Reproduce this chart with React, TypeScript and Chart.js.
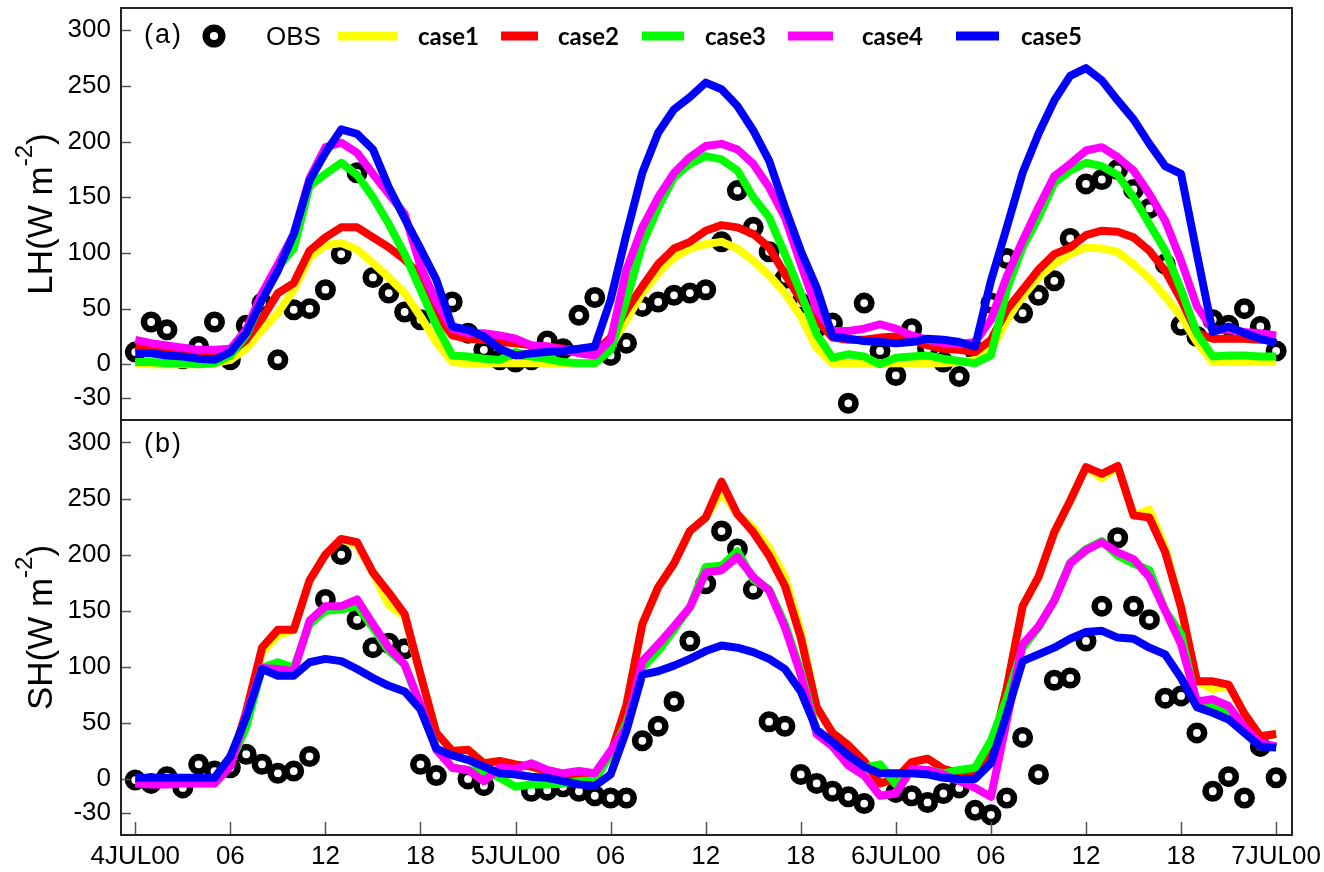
import React, { useEffect, useRef } from 'react';
import { Chart, registerables } from 'chart.js';

Chart.register(...registerables);

// ---- axis ticks -------------------------------------------------------------
const tickHours = [0, 6, 12, 18, 24, 30, 36, 42, 48, 54, 60, 66, 72];
const tickLabels = ['4JUL00', '06', '12', '18', '5JUL00', '06', '12', '18', '6JUL00', '06', '12', '18', '7JUL00'];
const yTicks = [-30, 0, 50, 100, 150, 200, 250, 300];

// ---- series -------------------------------------------------------------------
const seriesNames = ['case1', 'case2', 'case3', 'case4', 'case5'];
const seriesColors = ['#ffff00', '#ff0000', '#00ff00', '#ff00ff', '#0000ff'];

// Latent heat flux (W m-2), hourly from 4JUL00 00 to 7JUL00 00
const lhObs = [
  11, 38, 31, 5, 16, 38, 4, 35, 55, 4,
  49, 50, 67, 99, 172, 78, 64, 47, 40, null,
  56, 28, 13, 4, 2, 4, 21, 14, 44, 60,
  8, 19, 52, 56, 62, 64, 67, 110, 156, 123,
  101, 77, 55, 33, 37, -35, 55, 12, -10, 32,
  14, 2, -11, 12, 55, 95, 46, 62, 75, 113,
  162, 166, 175, 157, 140, 90, 35, 25, 40, 35,
  50, 34, 12,
];
const lhCase1 = [
  1, 0, 0, 0, 0, 1, 4, 14, 31, 46,
  67, 96, 107, 109, 103, 91, 78, 64, 43, 20,
  2, 1, 1, 1, 1, 1, 1, 1, 1, 1,
  16, 40, 64, 82, 96, 104, 108, 110, 104, 93,
  80, 64, 43, 15, 1, 1, 1, 1, 1, 1,
  1, 1, 2, 4, 13, 40, 61, 78, 90, 99,
  105, 104, 101, 90, 77, 61, 43, 20, 2, 2,
  2, 2, 2,
];
const lhCase2 = [
  15, 13, 11, 9, 7, 6, 10, 22, 41, 64,
  73, 102, 114, 123, 123, 114, 105, 94, 80, 46,
  26, 23, 22, 20, 19, 17, 16, 14, 13, 11,
  24, 49, 70, 90, 104, 110, 120, 125, 123, 117,
  105, 81, 58, 40, 24, 22, 22, 24, 25, 22,
  17, 14, 13, 11, 22, 49, 67, 85, 99, 105,
  116, 120, 119, 114, 102, 84, 58, 28, 23, 23,
  23, 22, 22,
];
const lhCase3 = [
  2, 2, 1, 1, 0, 1, 8, 26, 58, 87,
  104, 160, 171, 181, 170, 150, 126, 99, 67, 35,
  8, 7, 5, 4, 11, 7, 5, 2, 1, 1,
  13, 58, 108, 141, 168, 180, 187, 184, 174, 150,
  132, 99, 64, 27, 6, 9, 7, 0, 6, 7,
  8, 5, 3, 1, 8, 67, 105, 132, 163, 174,
  181, 178, 170, 150, 126, 102, 67, 28, 7, 8,
  8, 7, 7,
];
const lhCase4 = [
  22, 19, 17, 15, 13, 13, 14, 31, 64, 90,
  117, 167, 195, 199, 190, 171, 153, 135, 88, 56,
  32, 28, 28, 26, 23, 17, 16, 13, 10, 8,
  22, 85, 123, 150, 172, 186, 196, 198, 193, 180,
  159, 132, 90, 49, 30, 30, 32, 36, 32, 26,
  22, 19, 18, 20, 40, 79, 111, 141, 169, 180,
  192, 195, 186, 174, 153, 129, 93, 52, 31, 31,
  29, 28, 26,
];
const lhCase5 = [
  10, 10, 8, 7, 5, 4, 11, 28, 58, 84,
  117, 165, 190, 211, 207, 193, 159, 131, 104, 76,
  34, 31, 25, 14, 8, 10, 11, 12, 14, 16,
  58, 117, 172, 208, 229, 240, 253, 247, 232, 210,
  183, 141, 102, 69, 25, 23, 21, 20, 19, 20,
  23, 22, 20, 16, 75, 123, 172, 207, 237, 259,
  266, 255, 237, 220, 198, 178, 171, 99, 29, 34,
  28, 23, 19,
];

// Sensible heat flux (W m-2), same hours
const shObs = [
  -1, -4, 2, -8, 13, 7, 10, 22, 13, 5,
  7, 20, 160, 200, 142, 117, 121, 116, 13, 3,
  null, 0, -6, null, null, -11, -10, -7, -11, -15,
  -17, -17, 34, 47, 69, 123, 174, 221, 205, 169,
  51, 47, 4, -4, -11, -16, -22, null, -12, -15,
  -21, -13, -8, -28, -32, -17, 37, 4, 88, 90,
  123, 154, 215, 154, 142, 72, 74, 41, -11, 2,
  -17, 29, 1,
];
const shCase1 = [
  -2, -3, -3, -3, -3, -2, 13, 60, 113, 128,
  133, 177, 200, 214, 208, 184, 155, 145, 93, 41,
  25, 26, 14, 16, 13, 11, 7, 4, 1, 1,
  22, 66, 138, 171, 192, 221, 233, 256, 236, 224,
  206, 180, 132, 64, 41, 30, 16, -4, 0, 15,
  18, 9, 5, 5, 22, 81, 154, 180, 220, 248,
  278, 268, 279, 235, 240, 206, 153, 87, 80, 83,
  58, 38, 40,
];
const shCase2 = [
  -2, -3, -3, -3, -3, -2, 13, 60, 117, 133,
  133, 177, 200, 214, 211, 184, 166, 147, 93, 41,
  25, 26, 14, 16, 13, 11, 7, 4, 1, 1,
  22, 66, 138, 171, 192, 221, 233, 265, 236, 220,
  199, 172, 126, 64, 41, 30, 16, -4, 0, 15,
  18, 9, 5, 5, 22, 81, 154, 180, 220, 248,
  278, 272, 279, 235, 233, 202, 153, 87, 87, 84,
  58, 38, 40,
];
const shCase3 = [
  -1, -2, -2, -2, -3, -4, 14, 46, 99, 104,
  99, 138, 150, 151, 154, 135, 114, 102, 63, 28,
  10, 8, 7, 1, -7, -5, -5, -4, -2, -1,
  22, 50, 99, 114, 133, 153, 189, 190, 203, 178,
  169, 138, 96, 43, 31, 20, 10, 13, -5, 8,
  8, 5, 8, 10, 34, 72, 117, 135, 159, 193,
  205, 212, 199, 192, 186, 150, 129, 66, 65, 58,
  43, 32, 28,
];
const shCase4 = [
  -4, -5, -5, -4, -4, -4, 11, 58, 99, 98,
  96, 141, 154, 154, 160, 138, 117, 102, 66, 26,
  10, 8, -2, 10, 9, 14, 8, 5, 7, 5,
  25, 46, 105, 120, 136, 153, 184, 186, 198, 180,
  168, 135, 93, 40, 29, 12, 3, -15, -13, 9,
  8, 4, -2, -8, -16, 52, 120, 136, 159, 192,
  204, 211, 202, 196, 180, 150, 120, 69, 71, 65,
  46, 32, 29,
];
const shCase5 = [
  1, 1, 1, 1, 1, 1, 20, 55, 98, 92,
  92, 104, 107, 105, 98, 90, 83, 78, 62, 27,
  21, 17, 11, 5, 4, 2, 1, -2, -5, -6,
  4, 43, 93, 96, 101, 107, 114, 119, 117, 113,
  107, 98, 78, 44, 33, 21, 11, 5, 5, 5,
  4, 1, 0, 0, 14, 58, 105, 111, 117, 125,
  131, 132, 126, 125, 117, 111, 90, 64, 59, 53,
  41, 29, 28,
];

// ---- drawing helpers ---------------------------------------------------------
const FONT = '"Liberation Sans", Arial, Helvetica, sans-serif';
const W = 1324;

Chart.defaults.font.family = FONT;
Chart.defaults.color = '#000';

const toXY = (arr: (number | null)[]) => arr.map((v, i) => ({ x: i, y: v }));

function drawYTitle(ctx: CanvasRenderingContext2D, cx: number, cy: number, main: string, sup: string, tail: string) {
  const big = `35px ${FONT}`;
  const small = `24px ${FONT}`;
  ctx.save();
  ctx.translate(cx, cy);
  ctx.rotate(-Math.PI / 2);
  ctx.textAlign = 'left';
  ctx.textBaseline = 'alphabetic';
  ctx.fillStyle = '#000';
  ctx.font = big;
  const w1 = ctx.measureText(main).width;
  const w3 = ctx.measureText(tail).width;
  ctx.font = small;
  const w2 = ctx.measureText(sup).width;
  let x = -(w1 + w2 + w3) / 2;
  ctx.font = big;
  ctx.fillText(main, x, 0);
  x += w1;
  ctx.font = small;
  ctx.fillText(sup, x, -20);
  x += w2;
  ctx.font = big;
  ctx.fillText(tail, x, 0);
  ctx.restore();
}

function drawLegend(ctx: CanvasRenderingContext2D) {
  const cy = 36;
  ctx.save();
  // observation marker
  ctx.beginPath();
  ctx.arc(214, cy, 7.8, 0, Math.PI * 2);
  ctx.fillStyle = '#fff';
  ctx.fill();
  ctx.lineWidth = 7.4;
  ctx.strokeStyle = '#000';
  ctx.stroke();
  ctx.fillStyle = '#000';
  ctx.textBaseline = 'alphabetic';
  ctx.textAlign = 'left';
  ctx.font = `26px ${FONT}`;
  ctx.fillText('OBS', 266, 45);
  // model cases
  const swatches = [[338, 397], [501, 538], [642, 684], [788, 833], [956, 999]];
  const textX = [418, 558, 705, 862, 1021];
  ctx.lineWidth = 9;
  ctx.lineCap = 'butt';
  seriesNames.forEach((name, i) => {
    ctx.strokeStyle = seriesColors[i];
    ctx.beginPath();
    ctx.moveTo(swatches[i][0], cy);
    ctx.lineTo(swatches[i][1], cy);
    ctx.stroke();
    ctx.font = `bold 24px Lato, "Open Sans", sans-serif`;
    ctx.fillText(name, textX[i], 45);
  });
  ctx.restore();
}

const panelDecor = {
  id: 'panelDecor',
  afterDraw(chart: any, _args: any, opts: any) {
    const { ctx, chartArea: a, scales } = chart;
    ctx.save();
    // inward tick marks
    ctx.strokeStyle = '#555';
    ctx.lineWidth = 1.5;
    ctx.beginPath();
    yTicks.forEach((v) => {
      const y = Math.round(scales.y.getPixelForValue(v)) + 0.5;
      ctx.moveTo(a.left, y);
      ctx.lineTo(a.left + 10, y);
    });
    if (opts.xTicks) {
      tickHours.forEach((h) => {
        const x = Math.round(scales.x.getPixelForValue(h)) + 0.5;
        ctx.moveTo(x, a.bottom);
        ctx.lineTo(x, a.bottom - 13);
      });
    }
    ctx.stroke();
    // frame
    ctx.strokeStyle = '#222';
    ctx.lineWidth = 2;
    ctx.strokeRect(a.left, a.top, a.right - a.left, a.bottom - a.top);
    // panel tag
    ctx.fillStyle = '#000';
    ctx.font = `27px ${FONT}`;
    ctx.textAlign = 'left';
    ctx.textBaseline = 'alphabetic';
    (ctx as any).letterSpacing = '2px';
    ctx.fillText(opts.tag, a.left + 23, a.top + opts.tagBaseline);
    (ctx as any).letterSpacing = '0px';
    ctx.restore();
    // axis title
    drawYTitle(ctx, 52, (a.top + a.bottom) / 2, opts.title, '-2', ')');
    if (opts.legend) drawLegend(ctx);
  },
};

interface PanelSpec {
  obs: (number | null)[];
  cases: number[][];
  padTop: number;
  padBottom: number;
  showX: boolean;
  tag: string;
  tagBaseline: number;
  title: string;
  legend: boolean;
}

function makeConfig(p: PanelSpec): any {
  const datasets: any[] = [
    {
      label: 'OBS',
      data: toXY(p.obs),
      showLine: false,
      pointRadius: 7.2,
      pointHoverRadius: 7.2,
      pointBorderWidth: 6.6,
      pointHoverBorderWidth: 6.6,
      pointBorderColor: '#000',
      pointBackgroundColor: '#fff',
      order: 10,
    },
    ...p.cases.map((arr, i) => ({
      label: seriesNames[i],
      data: toXY(arr),
      borderColor: seriesColors[i],
      backgroundColor: seriesColors[i],
      borderWidth: 8,
      borderJoinStyle: 'round',
      pointRadius: 0,
      pointHoverRadius: 0,
      tension: 0,
      fill: false,
      order: 5 - i,
    })),
  ];
  const xHeight = p.showX ? 37 : 0;
  return {
    type: 'line',
    data: { datasets },
    options: {
      animation: false,
      responsive: false,
      devicePixelRatio: 1,
      events: [],
      layout: {
        autoPadding: false,
        padding: { left: 0, right: 32, top: p.padTop, bottom: p.padBottom },
      },
      plugins: {
        legend: { display: false },
        tooltip: { enabled: false },
        panelDecor: { xTicks: p.showX, tag: p.tag, tagBaseline: p.tagBaseline, title: p.title, legend: p.legend },
      },
      scales: {
        x: {
          type: 'linear',
          min: -0.9,
          max: 73,
          display: p.showX,
          grid: { display: false, drawTicks: false },
          border: { display: false },
          ticks: {
            autoSkip: false,
            maxRotation: 0,
            minRotation: 0,
            padding: 6,
            font: { size: 26, family: FONT },
            color: '#000',
            callback: (_v: any, i: number) => tickLabels[i],
          },
          afterBuildTicks: (s: any) => {
            s.ticks = tickHours.map((h) => ({ value: h }));
          },
          afterFit: (s: any) => {
            s.height = xHeight;
            s.paddingLeft = 0;
            s.paddingRight = 0;
          },
        },
        y: {
          type: 'linear',
          min: -50,
          max: 320,
          grid: { display: false, drawTicks: false },
          border: { display: false },
          ticks: {
            autoSkip: false,
            padding: 10,
            font: { size: 26, family: FONT, lineHeight: 0.5 },
            color: '#000',
            callback: (v: any) => String(v),
          },
          afterBuildTicks: (s: any) => {
            s.ticks = yTicks.map((v) => ({ value: v }));
          },
          afterFit: (s: any) => {
            s.width = 121;
            s.paddingTop = 0;
            s.paddingBottom = 0;
          },
        },
      },
    },
    plugins: [panelDecor],
  };
}

export default function App() {
  const topRef = useRef<HTMLCanvasElement>(null);
  const botRef = useRef<HTMLCanvasElement>(null);

  useEffect(() => {
    const charts: Chart[] = [];
    if (topRef.current) {
      charts.push(
        new Chart(
          topRef.current,
          makeConfig({
            obs: lhObs,
            cases: [lhCase1, lhCase2, lhCase3, lhCase4, lhCase5],
            padTop: 8,
            padBottom: 1,
            showX: false,
            tag: '(a)',
            tagBaseline: 35,
            title: 'LH(W m',
            legend: true,
          })
        )
      );
    }
    if (botRef.current) {
      charts.push(
        new Chart(
          botRef.current,
          makeConfig({
            obs: shObs,
            cases: [shCase1, shCase2, shCase3, shCase4, shCase5],
            padTop: 10,
            padBottom: 0,
            showX: true,
            tag: '(b)',
            tagBaseline: 32,
            title: 'SH(W m',
            legend: false,
          })
        )
      );
    }
    return () => charts.forEach((c) => c.destroy());
  }, []);

  return (
    <div style={{ position: 'absolute', left: 0, top: 0, width: W, height: 872, background: '#fff' }}>
      <canvas ref={topRef} width={W} height={421} style={{ position: 'absolute', left: 0, top: 0, display: 'block' }} />
      <canvas ref={botRef} width={W} height={462} style={{ position: 'absolute', left: 0, top: 410, display: 'block' }} />
    </div>
  );
}
